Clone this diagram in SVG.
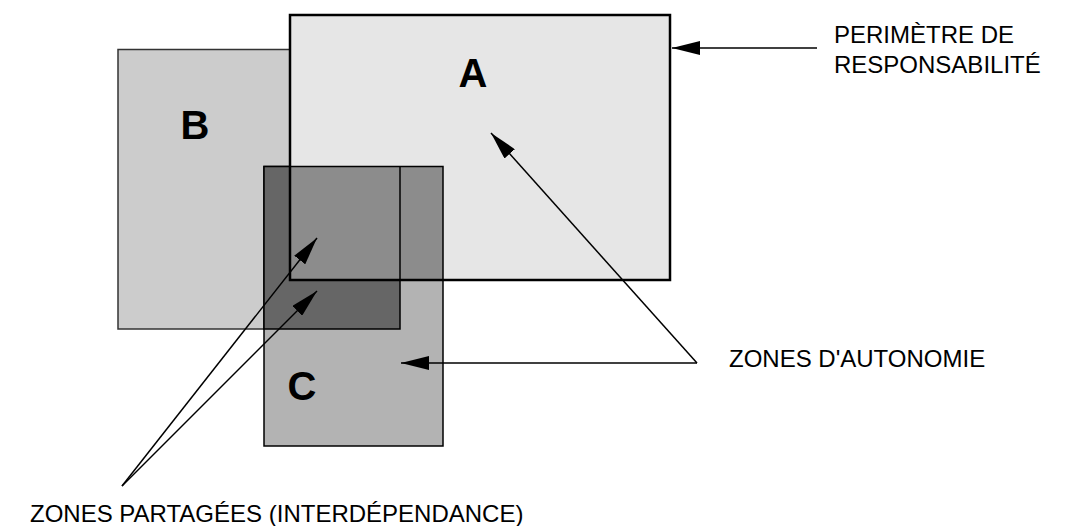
<svg xmlns="http://www.w3.org/2000/svg" width="1065" height="526" viewBox="0 0 1065 526">
<style>
.lbl{font-family:"Liberation Sans",Arial,sans-serif;font-size:24px;fill:#000}
.big{font-family:"Liberation Sans",Arial,sans-serif;font-size:40px;font-weight:bold;fill:#000;text-anchor:middle}
.conn{stroke:#000;stroke-width:1.5;fill:none;marker-end:url(#ah)}
</style>
<defs>
<marker id="ah" viewBox="0 0 28 14" refX="28" refY="7" markerWidth="28" markerHeight="14" markerUnits="userSpaceOnUse" orient="auto">
<path d="M0,0 L28,7 L0,14 Z" fill="#000"/>
</marker>
</defs>
<rect width="1065" height="526" fill="#fff"/>
<g id="nodeB">
<rect x="118" y="49.5" width="282" height="279.5" fill="#cccccc" stroke="#333" stroke-width="1.5"/>
</g>
<g id="nodeC">
<rect x="264" y="166.5" width="179" height="279.5" fill="#b3b3b3" stroke="#000" stroke-width="1.5"/>
</g>
<g id="overlapBC">
<rect x="264" y="166.5" width="136" height="162.5" fill="#666666" stroke="#000" stroke-width="1.5"/>
</g>
<g id="nodeA">
<rect x="290" y="15" width="380" height="265" fill="#e6e6e6"/>
<rect x="290" y="166.5" width="153" height="113.5" fill="#8c8c8c" stroke="#000" stroke-width="1.5"/>
<line x1="400" y1="166.5" x2="400" y2="280" stroke="#000" stroke-width="1.5"/>
<rect x="290" y="15" width="380" height="265" fill="none" stroke="#000" stroke-width="2.5"/>
</g>
<g id="labels">
<text class="big" x="473" y="87">A</text>
<text class="big" x="195" y="139">B</text>
<text class="big" x="302" y="400">C</text>
<text class="lbl" x="834" y="43">PERIMÈTRE DE</text>
<text class="lbl" x="834" y="73">RESPONSABILITÉ</text>
<text class="lbl" x="729" y="367">ZONES D'AUTONOMIE</text>
<text class="lbl" x="30" y="522">ZONES PARTAGÉES (INTERDÉPENDANCE)</text>
</g>
<g id="connectors">
<line class="conn" x1="817" y1="48" x2="672" y2="48"/>
<line class="conn" x1="697" y1="363" x2="401" y2="363"/>
<line class="conn" x1="697" y1="363" x2="491" y2="133"/>
<line class="conn" x1="122" y1="486" x2="317" y2="238"/>
<line class="conn" x1="122" y1="486" x2="317" y2="291"/>
</g>
</svg>
